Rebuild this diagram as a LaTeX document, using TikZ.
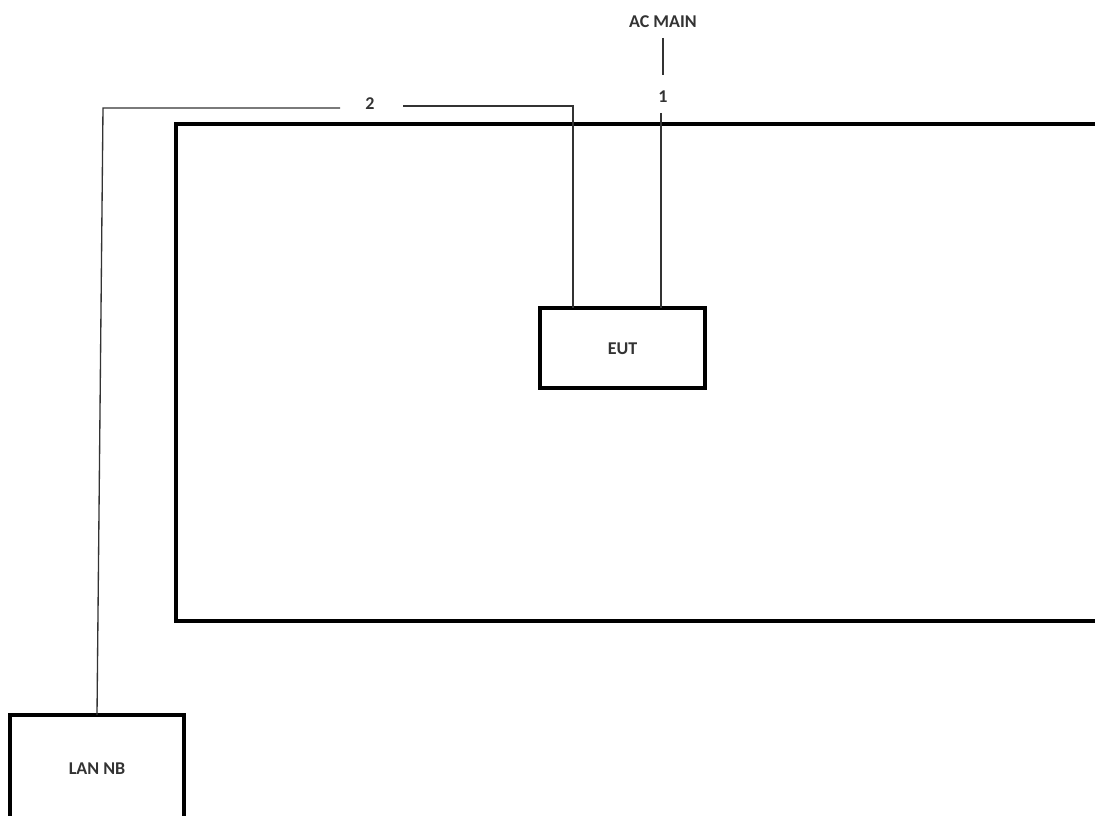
\documentclass[tikz,border=0pt]{standalone}
\usepackage{fontspec}
\setmainfont{Carlito}
\begin{document}
\begin{tikzpicture}[x=0.75pt,y=-0.75pt,
  box/.style={draw=black,line width=2.5pt},
  wire/.style={draw=black!80,line width=1pt},
  lbl/.style={font=\fontsize{13.5}{15}\selectfont\bfseries,text=black!80,inner sep=0pt}]
\useasboundingbox (0,0) rectangle (1095,816);
% shielded room (clipped at right)
\draw[box] (1096,124) -- (176,124) -- (176,621) -- (1096,621);
% EUT
\draw[box] (540,308) rectangle (705,388);
\node[lbl] (eut) at (622.5,349) {EUT};
\coordinate (eutA) at (573,308);
\coordinate (eutB) at (661,308);
% LAN NB (clipped at bottom)
\draw[box] (10,817) -- (10,715) -- (184,715) -- (184,817);
\node[lbl] (lan) at (97,769) {LAN NB};
\coordinate (lanT) at (97,715);
% AC MAIN
\node[lbl] (ac) at (663,22) {AC MAIN};
\node[lbl] (one) at (663,97) {1};
\draw[wire] (663,38) -- (663,75);
\draw[wire] (661,113) -- (eutB);
% cable 2
\node[lbl] (two) at (370,104) {2};
\draw[wire] (eutA) -- (573,106) -- (403,106);
\draw[wire] (340,108) -- (103,108) -- (lanT);
\end{tikzpicture}
\end{document}
